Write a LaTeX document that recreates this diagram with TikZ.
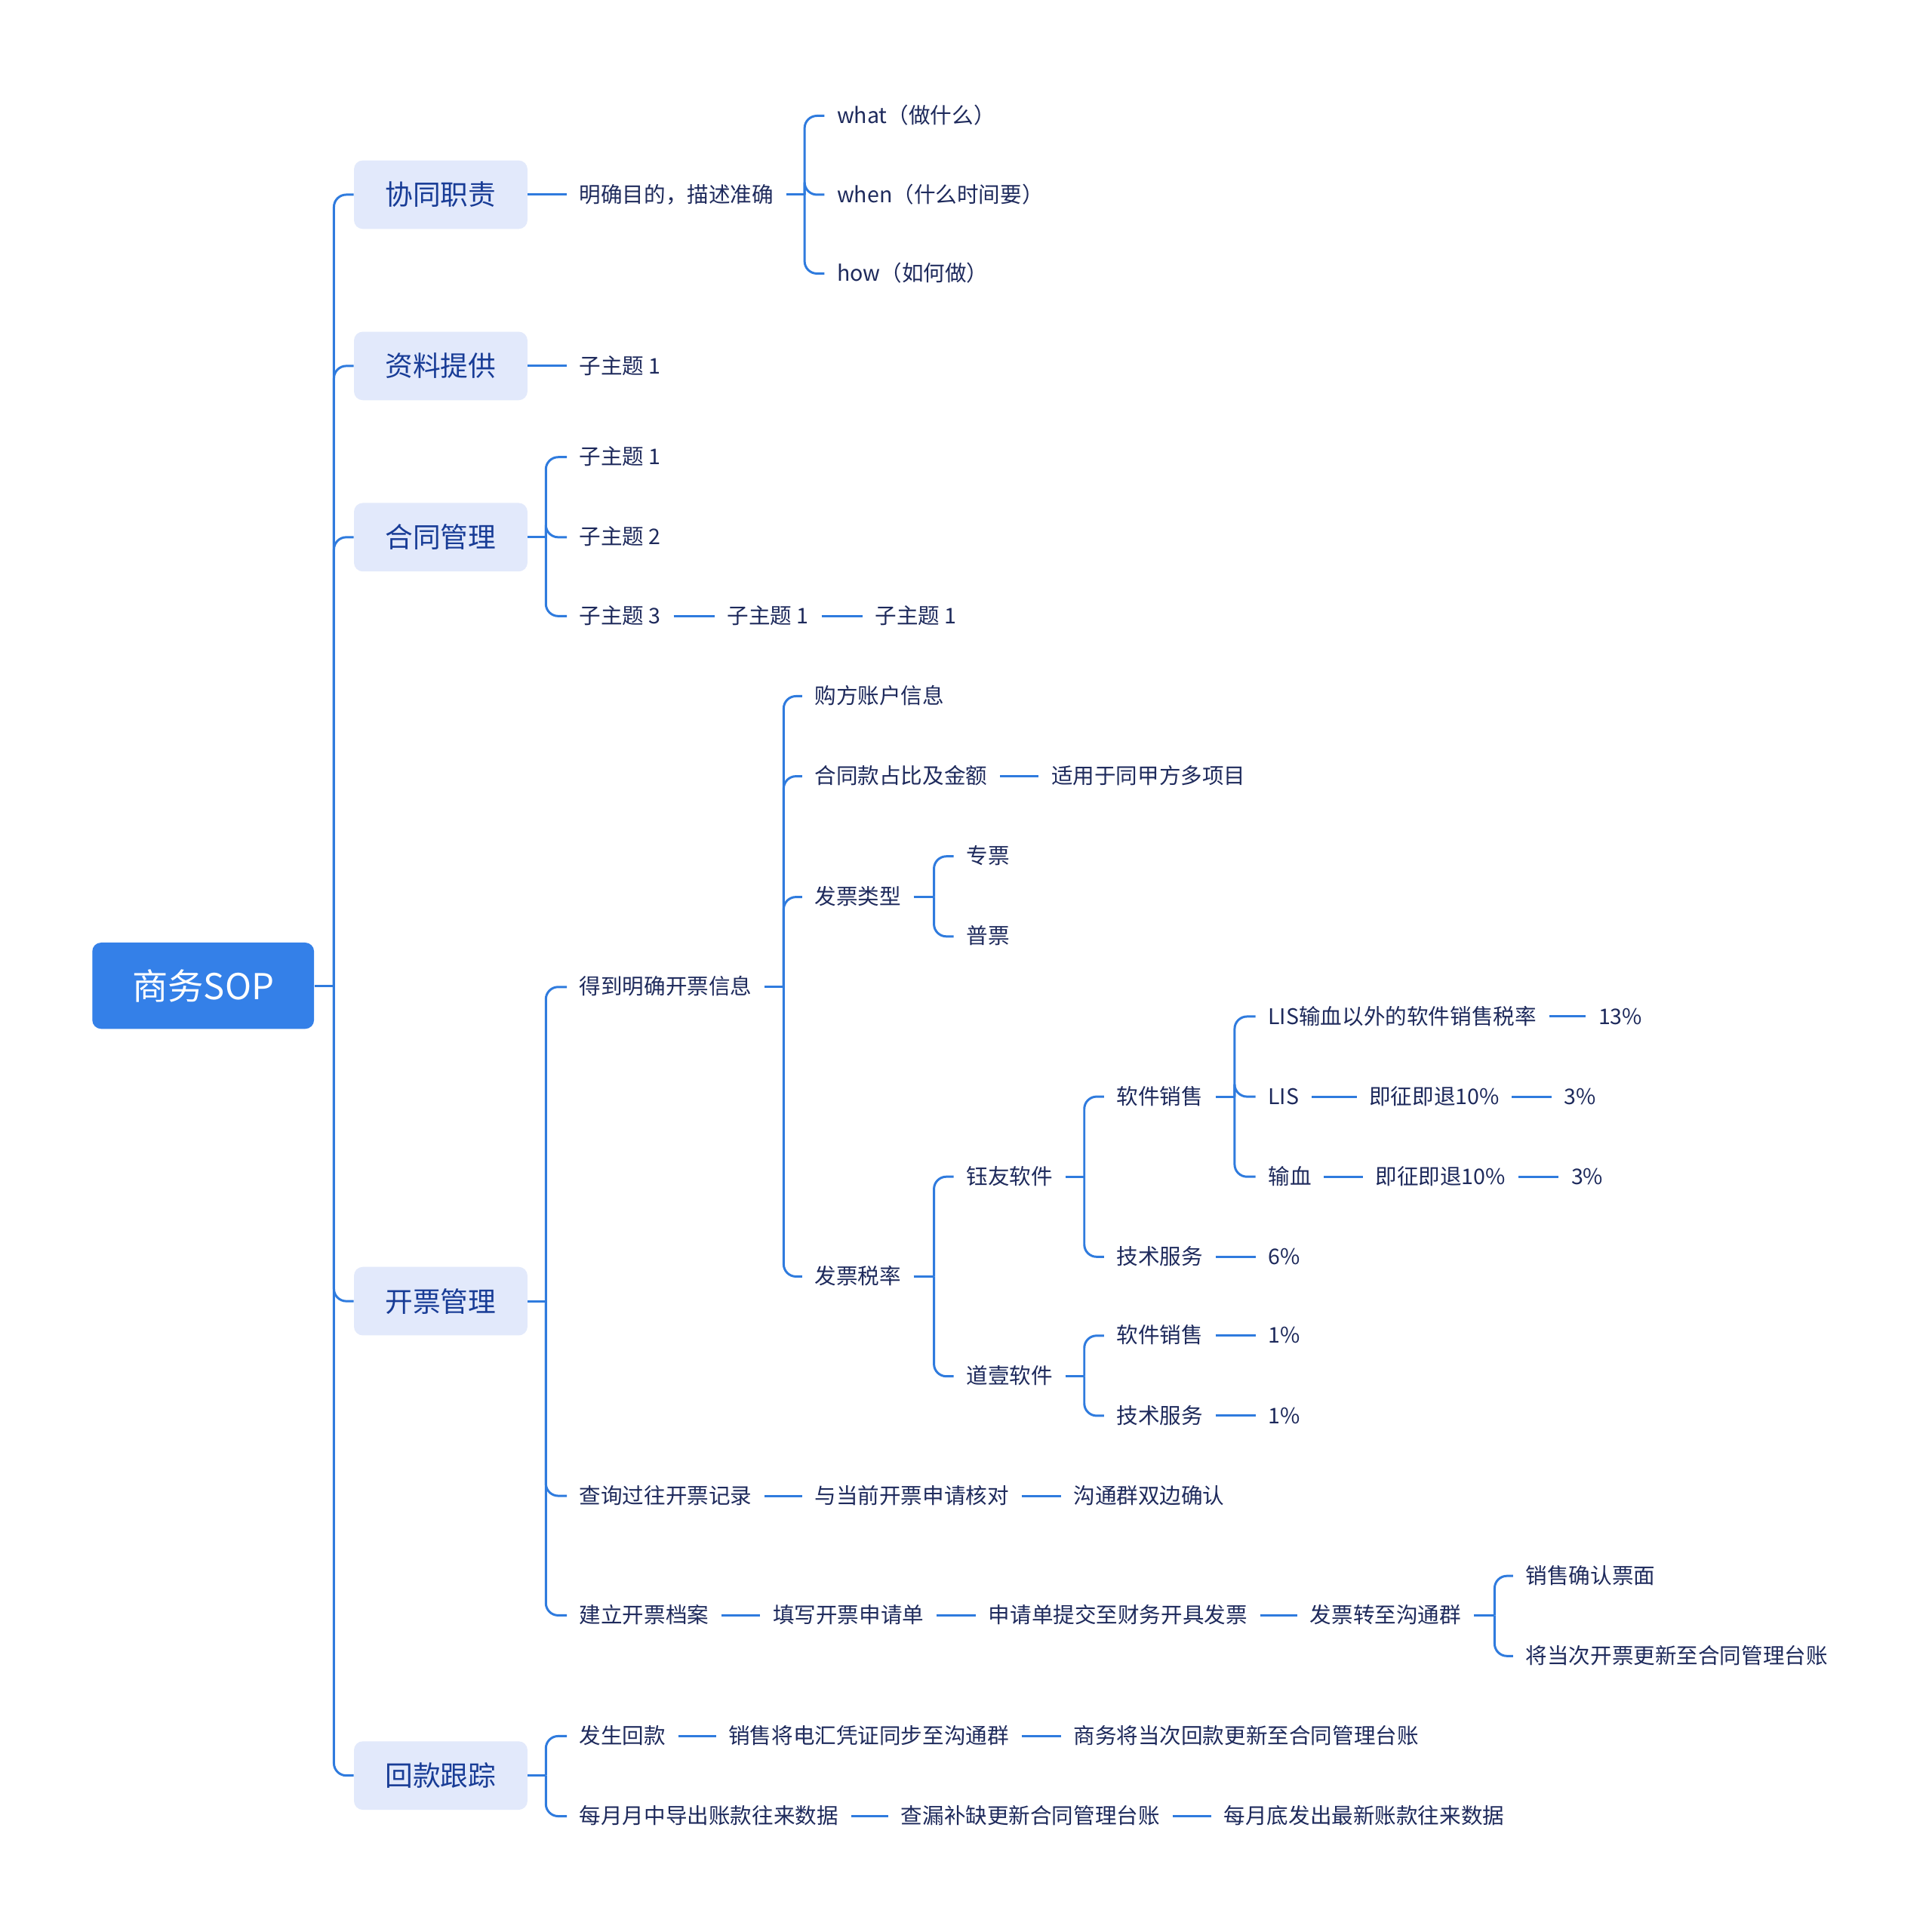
\documentclass[tikz,border=0pt]{standalone}
\usepackage{fontspec}
\setmainfont{Noto Sans CJK SC}
\usetikzlibrary{calc,positioning}
\definecolor{linkblue}{RGB}{47,123,222}
\definecolor{rootblue}{RGB}{52,128,232}
\definecolor{boxfill}{RGB}{226,233,251}
\definecolor{boxtext}{RGB}{24,60,150}
\definecolor{leaftext}{RGB}{30,42,92}
\tikzset{
  wire/.style={draw=linkblue, line width=1.3pt, rounded corners=2.5mm},
  rootbox/.style={fill=rootblue, text=white, rounded corners=1.8mm, minimum width=45mm, minimum height=17.5mm, inner sep=0pt, font=\fontsize{20.6}{24}\selectfont, anchor=west},
  topicbox/.style={fill=boxfill, text=boxtext, rounded corners=1.8mm, minimum width=35.2mm, minimum height=13.9mm, inner sep=0pt, font=\fontsize{16}{19}\selectfont, anchor=west},
  leaf/.style={text=leaftext, font=\fontsize{12.45}{15}\selectfont, inner xsep=2.5mm, inner ysep=0.8mm, text height=0.94em, text depth=0.06em, anchor=west}
}
\begin{document}
\begin{tikzpicture}[x=0.25mm,y=-0.25mm]
  \useasboundingbox[fill=white] (0,0) rectangle (1568,1568);
  \node[rootbox] (root) at (74.6,800) {商务SOP};
  \node[topicbox] (xt) at (287,158) {协同职责};
  \node[topicbox] (zl) at (287,297) {资料提供};
  \node[topicbox] (ht) at (287,436) {合同管理};
  \node[topicbox] (kp) at (287,1056) {开票管理};
  \node[topicbox] (hk) at (287,1441) {回款跟踪};
  \coordinate (trunk) at (271,800);
  \draw[wire] (root.east) -- (trunk);
  \foreach \b in {xt,zl,ht,kp,hk}
    \draw[wire] (trunk) |- (\b.west);

  % 协同职责
  \node[leaf] (xt1) at (460,158) {明确目的，描述准确};
  \node[leaf] (xt1a) at (669,94) {what（做什么）};
  \node[leaf] (xt1b) at (669,158) {when（什么时间要）};
  \node[leaf] (xt1c) at (669,222) {how（如何做）};
  \coordinate (xt1bus) at (653,158);
  \draw[wire] (xt.east) -- (xt1.west);
  \draw[wire] (xt1.east) -- (xt1bus);
  \foreach \c in {xt1a,xt1b,xt1c}
    \draw[wire] (xt1bus) |- (\c.west);

  % 资料提供
  \node[leaf] (zl1) at (460,297) {子主题 1};
  \draw[wire] (zl.east) -- (zl1.west);

  % 合同管理
  \node[leaf] (ht1) at (460,371) {子主题 1};
  \node[leaf] (ht2) at (460,436) {子主题 2};
  \node[leaf] (ht3) at (460,500) {子主题 3};
  \node[leaf] (ht3a) at (580,500) {子主题 1};
  \node[leaf] (ht3b) at (700,500) {子主题 1};
  \coordinate (htbus) at (443,436);
  \draw[wire] (ht.east) -- (htbus);
  \foreach \c in {ht1,ht2,ht3}
    \draw[wire] (htbus) |- (\c.west);
  \draw[wire] (ht3.east) -- (ht3a.west);
  \draw[wire] (ht3a.east) -- (ht3b.west);

  % 开票管理
  \node[leaf] (kp1) at (460,801) {得到明确开票信息};
  \node[leaf] (kp2) at (460,1214) {查询过往开票记录};
  \node[leaf] (kp3) at (460,1311) {建立开票档案};
  \coordinate (kpbus) at (443,1056);
  \draw[wire] (kp.east) -- (kpbus);
  \foreach \c in {kp1,kp2,kp3}
    \draw[wire] (kpbus) |- (\c.west);

  \node[leaf] (kp1a) at (651,565) {购方账户信息};
  \node[leaf] (kp1b) at (651,630) {合同款占比及金额};
  \node[leaf] (kp1c) at (651,728) {发票类型};
  \node[leaf] (kp1d) at (651,1036) {发票税率};
  \coordinate (kp1bus) at (636,801);
  \draw[wire] (kp1.east) -- (kp1bus);
  \foreach \c in {kp1a,kp1b,kp1c,kp1d}
    \draw[wire] (kp1bus) |- (\c.west);

  \node[leaf] (kp1b1) at (843,630) {适用于同甲方多项目};
  \draw[wire] (kp1b.east) -- (kp1b1.west);

  \node[leaf] (kp1c1) at (774,695) {专票};
  \node[leaf] (kp1c2) at (774,760) {普票};
  \coordinate (kp1cbus) at (758,728);
  \draw[wire] (kp1c.east) -- (kp1cbus);
  \foreach \c in {kp1c1,kp1c2}
    \draw[wire] (kp1cbus) |- (\c.west);

  \node[leaf] (yy) at (774,955) {钰友软件};
  \node[leaf] (dy) at (774,1117) {道壹软件};
  \coordinate (kp1dbus) at (758,1036);
  \draw[wire] (kp1d.east) -- (kp1dbus);
  \foreach \c in {yy,dy}
    \draw[wire] (kp1dbus) |- (\c.west);

  \node[leaf] (yy1) at (896,890) {软件销售};
  \node[leaf] (yy2) at (896,1020) {技术服务};
  \coordinate (yybus) at (880,955);
  \draw[wire] (yy.east) -- (yybus);
  \foreach \c in {yy1,yy2}
    \draw[wire] (yybus) |- (\c.west);

  \node[leaf] (yy1a) at (1019,825) {LIS输血以外的软件销售税率};
  \node[leaf] (yy1b) at (1019,890) {LIS};
  \node[leaf] (yy1c) at (1019,955) {输血};
  \coordinate (yy1bus) at (1002,890);
  \draw[wire] (yy1.east) -- (yy1bus);
  \foreach \c in {yy1a,yy1b,yy1c}
    \draw[wire] (yy1bus) |- (\c.west);
  \node[leaf] (yy1a1) at (1287,825) {13\%};
  \node[leaf] (yy1b1) at (1101,890) {即征即退10\%};
  \node[leaf] (yy1b2) at (1259,890) {3\%};
  \node[leaf] (yy1c1) at (1106,955) {即征即退10\%};
  \node[leaf] (yy1c2) at (1265,955) {3\%};
  \draw[wire] (yy1a.east) -- (yy1a1.west);
  \draw[wire] (yy1b.east) -- (yy1b1.west);
  \draw[wire] (yy1b1.east) -- (yy1b2.west);
  \draw[wire] (yy1c.east) -- (yy1c1.west);
  \draw[wire] (yy1c1.east) -- (yy1c2.west);
  \node[leaf] (yy2a) at (1019,1020) {6\%};
  \draw[wire] (yy2.east) -- (yy2a.west);

  \node[leaf] (dy1) at (896,1084) {软件销售};
  \node[leaf] (dy2) at (896,1149) {技术服务};
  \coordinate (dybus) at (880,1117);
  \draw[wire] (dy.east) -- (dybus);
  \foreach \c in {dy1,dy2}
    \draw[wire] (dybus) |- (\c.west);
  \node[leaf] (dy1a) at (1019,1084) {1\%};
  \node[leaf] (dy2a) at (1019,1149) {1\%};
  \draw[wire] (dy1.east) -- (dy1a.west);
  \draw[wire] (dy2.east) -- (dy2a.west);

  \node[leaf] (kp2a) at (651,1214) {与当前开票申请核对};
  \node[leaf] (kp2b) at (861,1214) {沟通群双边确认};
  \draw[wire] (kp2.east) -- (kp2a.west);
  \draw[wire] (kp2a.east) -- (kp2b.west);

  \node[leaf] (kp3a) at (617,1311) {填写开票申请单};
  \node[leaf] (kp3b) at (792,1311) {申请单提交至财务开具发票};
  \node[leaf] (kp3c) at (1053,1311) {发票转至沟通群};
  \node[leaf] (kp3c1) at (1228,1279) {销售确认票面};
  \node[leaf] (kp3c2) at (1228,1344) {将当次开票更新至合同管理台账};
  \coordinate (kp3cbus) at (1213,1311);
  \draw[wire] (kp3.east) -- (kp3a.west);
  \draw[wire] (kp3a.east) -- (kp3b.west);
  \draw[wire] (kp3b.east) -- (kp3c.west);
  \draw[wire] (kp3c.east) -- (kp3cbus);
  \foreach \c in {kp3c1,kp3c2}
    \draw[wire] (kp3cbus) |- (\c.west);

  % 回款跟踪
  \node[leaf] (hk1) at (460,1409) {发生回款};
  \node[leaf] (hk1a) at (581,1409) {销售将电汇凭证同步至沟通群};
  \node[leaf] (hk1b) at (861,1409) {商务将当次回款更新至合同管理台账};
  \node[leaf] (hk2) at (460,1474) {每月月中导出账款往来数据};
  \node[leaf] (hk2a) at (721,1474) {查漏补缺更新合同管理台账};
  \node[leaf] (hk2b) at (983,1474) {每月底发出最新账款往来数据};
  \coordinate (hkbus) at (443,1441);
  \draw[wire] (hk.east) -- (hkbus);
  \foreach \c in {hk1,hk2}
    \draw[wire] (hkbus) |- (\c.west);
  \draw[wire] (hk1.east) -- (hk1a.west);
  \draw[wire] (hk1a.east) -- (hk1b.west);
  \draw[wire] (hk2.east) -- (hk2a.west);
  \draw[wire] (hk2a.east) -- (hk2b.west);
\end{tikzpicture}
\end{document}
